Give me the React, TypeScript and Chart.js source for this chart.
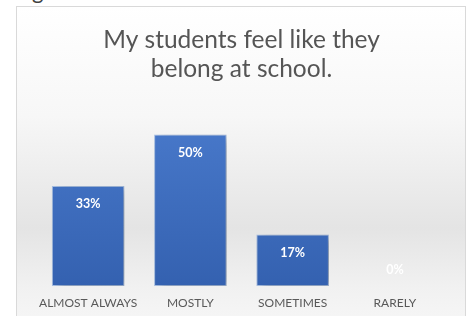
import React, { useEffect, useRef } from "react";
import { Chart, registerables } from "chart.js";

Chart.register(...registerables);

const categories = ["ALMOST ALWAYS", "MOSTLY", "SOMETIMES", "RARELY"];
const values = [0.33, 0.5, 0.17, 0];
const valueLabels = ["33%", "50%", "17%", "0%"];
const titleLines = ["My students feel like they", "belong at school."];

const FONT = "Lato, 'Open Sans', sans-serif";

export default function App() {
  const ref = useRef<HTMLCanvasElement | null>(null);

  useEffect(() => {
    document.body.style.margin = "0";
    const canvas = ref.current;
    if (!canvas) return;

    const labelPlugin = {
      id: "barDeco",
      beforeDatasetsDraw(chart: any) {
        const ctx = chart.ctx;
        ctx.save();
        ctx.shadowColor = "rgba(0,0,0,0.28)";
        ctx.shadowBlur = 9;
        ctx.shadowOffsetX = 5;
        ctx.shadowOffsetY = 2;
      },
      afterDatasetsDraw(chart: any) {
        const ctx = chart.ctx;
        ctx.restore();
        const meta = chart.getDatasetMeta(0);
        ctx.save();
        ctx.fillStyle = "#ffffff";
        ctx.font = `bold 12.5px ${FONT}`;
        ctx.textAlign = "center";
        ctx.textBaseline = "middle";
        meta.data.forEach((bar: any, i: number) => {
          const y = Math.min(bar.y + 18, bar.base - 16);
          ctx.fillText(valueLabels[i], bar.x, y);
        });
        ctx.restore();
      },
    };

    const chart = new Chart(canvas, {
      type: "bar",
      data: {
        labels: categories,
        datasets: [
          {
            data: values,
            backgroundColor: (c: any) => {
              const area = c.chart.chartArea;
              if (!area) return "#4472c4";
              const g = c.chart.ctx.createLinearGradient(0, area.top, 0, area.bottom);
              g.addColorStop(0, "#4a7bcd");
              g.addColorStop(1, "#3461b0");
              return g;
            },
            borderColor: "rgba(120,160,220,0.6)",
            borderWidth: 1,
            borderSkipped: false,
            categoryPercentage: 1,
            barPercentage: 0.71,
          },
        ],
      },
      options: {
        animation: false,
        responsive: false,
        maintainAspectRatio: false,
        layout: { padding: { left: 20, right: 19, top: 0, bottom: 0 } },
        plugins: {
          legend: { display: false },
          tooltip: { enabled: false },
          title: {
            display: true,
            text: titleLines,
            color: "#555555",
            font: { family: FONT, size: 24.5, weight: "normal", lineHeight: 1.17 },
            padding: { top: 19, bottom: 21 },
          },
        },
        scales: {
          x: {
            grid: { display: false, drawTicks: false, tickLength: 0 },
            border: { display: false },
            ticks: {
              color: "#595959",
              font: { family: FONT, size: 12 },
              padding: 10,
              maxRotation: 0,
            },
            afterFit: (scale: any) => {
              scale.height = 44;
            },
          },
          y: {
            display: false,
            min: 0,
            max: 0.6,
          },
        },
      },
      plugins: [labelPlugin],
    });

    return () => chart.destroy();
  }, []);

  return (
    <div
      style={{
        position: "fixed",
        left: 0,
        top: 0,
        width: 472,
        height: 316,
        overflow: "hidden",
        background: "#ffffff",
      }}
    >
      <span
        style={{
          position: "absolute",
          left: 32,
          top: -21,
          fontFamily: FONT,
          fontSize: 22,
          lineHeight: "24px",
          color: "#404040",
        }}
      >
        g
      </span>
      <div
        style={{
          position: "absolute",
          left: 16,
          top: 6,
          width: 448,
          height: 330,
          overflow: "hidden",
          border: "1px solid #d9d9d9",
          background:
            "linear-gradient(to bottom, #ffffff 0%, #f7f7f7 33%, #e4e4e4 67%, #f1f1f1 85%, #f8f8f8 100%)",
        }}
      >
        <canvas ref={ref} width={448} height={323} style={{ display: "block" }} />
      </div>
    </div>
  );
}
